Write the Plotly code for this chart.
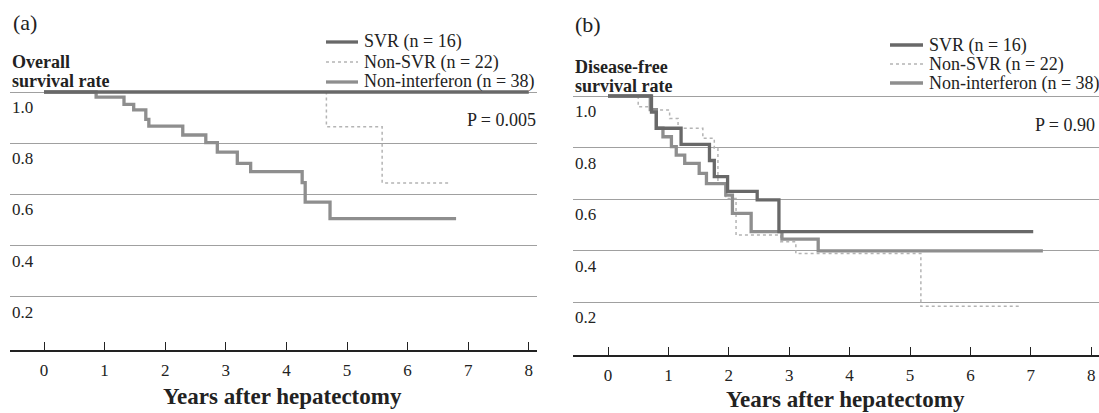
import plotly.graph_objects as go

# ---------------- data ----------------
years = [0, 1, 2, 3, 4, 5, 6, 7, 8]
rate_ticks = [0.2, 0.4, 0.6, 0.8, 1.0]
rate_labels = ["0.2", "0.4", "0.6", "0.8", "1.0"]
series_names = ["SVR (n = 16)", "Non-SVR (n = 22)", "Non-interferon (n = 38)"]

# (a) overall survival
svr_a_t = [0, 8.0]
svr_a_s = [1.0, 1.0]
nsvr_a_t = [0, 4.66, 5.58, 6.68]
nsvr_a_s = [1.0, 0.864, 0.645, 0.645]
ni_a_t = [0, 0.86, 1.32, 1.48, 1.68, 1.73, 2.29, 2.67, 2.86, 3.19, 3.41, 4.26, 4.31, 4.72, 6.80]
ni_a_s = [1.0, 0.980, 0.952, 0.930, 0.893, 0.867, 0.832, 0.802, 0.765, 0.721, 0.689, 0.646, 0.570, 0.505, 0.505]

# (b) disease-free survival
svr_b_t = [0, 0.72, 0.80, 1.21, 1.68, 1.76, 1.98, 2.47, 2.83, 7.04]
svr_b_s = [1.0, 0.9375, 0.875, 0.8125, 0.75, 0.6875, 0.63, 0.597, 0.474, 0.474]
nsvr_b_t = [0, 0.50, 0.72, 1.02, 1.16, 1.57, 1.76, 1.82, 1.95, 2.12, 2.86, 3.11, 5.18, 6.8]
nsvr_b_s = [1.0, 0.958, 0.946, 0.913, 0.875, 0.836, 0.797, 0.66, 0.603, 0.461, 0.435, 0.39, 0.185, 0.185]
ni_b_t = [0, 0.70, 0.80, 0.91, 1.05, 1.13, 1.27, 1.51, 1.63, 1.95, 2.06, 2.37, 2.88, 3.48, 7.2]
ni_b_s = [1.0, 0.947, 0.875, 0.842, 0.804, 0.771, 0.739, 0.70, 0.66, 0.616, 0.545, 0.474, 0.445, 0.40, 0.40]

p_texts = ["P = 0.005", "P = 0.90"]
panel_tags = ["(a)", "(b)"]
ytitles = [["Overall", "survival rate"], ["Disease-free", "survival rate"]]
xtitle = "Years after hepatectomy"

# ---------------- styles / geometry ----------------
W, H = 1099, 413
SERIF = "Liberation Serif"
TXT = "#222222"
GRID = "#a0a0a0"
styles = [
    dict(color="#686868", width=3.3, dash="solid"),   # SVR
    dict(color="#b4b4b4", width=1.5, dash="dot"),     # Non-SVR
    dict(color="#8e8e8e", width=3.3, dash="solid"),   # Non-interferon
]

def px(x):
    return x / W

def py(y):
    return 1 - y / H

# panel geometry in pixels (zero of the rate at ybase, axis line at yaxis_px)
panels = [
    dict(xl=10, xr=537, x0=44, ppy=60.6, ybase=348, yaxis_px=350, ytop=86, pp=256,
         leg_x0=326, leg_x1=358, leg_tx=362, leg_rows=[42, 62, 82],
         p_x=538, p_y=120, tag_x=11, tag_y=22, yt_rows=[62, 81], xt_y=396),
    dict(xl=573, xr=1099, x0=608, ppy=60.4, ybase=354, yaxis_px=355, ytop=90, pp=258,
         leg_x0=890, leg_x1=923, leg_tx=927, leg_rows=[45, 64, 83],
         p_x=1097, p_y=125, tag_x=573, tag_y=25, yt_rows=[67, 86], xt_y=399),
]

data_sets = [
    [(svr_a_t, svr_a_s), (nsvr_a_t, nsvr_a_s), (ni_a_t, ni_a_s)],
    [(svr_b_t, svr_b_s), (nsvr_b_t, nsvr_b_s), (ni_b_t, ni_b_s)],
]

fig = go.Figure()
annotations = []
shapes = []

for i, (pn, ds) in enumerate(zip(panels, data_sets)):
    sfx = "" if i == 0 else str(i + 1)
    xa, ya = "x" + sfx, "y" + sfx
    # draw order: non-SVR dotted under, then NI, then SVR on top
    for k in [1, 2, 0]:
        t, s = ds[k]
        st = styles[k]
        fig.add_trace(go.Scatter(
            x=t, y=s, mode="lines", line_shape="hv", name=series_names[k],
            line=dict(color=st["color"], width=st["width"], dash=st["dash"]),
            xaxis=xa, yaxis=ya, showlegend=False, hoverinfo="skip"))

    xr0 = (pn["xl"] - pn["x0"]) / pn["ppy"]
    xr1 = (pn["xr"] - pn["x0"]) / pn["ppy"]
    yr0 = (pn["ybase"] - pn["yaxis_px"]) / pn["pp"]
    yr1 = (pn["ybase"] - pn["ytop"]) / pn["pp"]
    fig.update_layout(**{
        "xaxis" + sfx: dict(
            domain=[px(pn["xl"]), px(pn["xr"])], range=[xr0, xr1],
            anchor=ya, showgrid=False, zeroline=False,
            showline=True, linecolor=TXT, linewidth=1.5,
            ticks="inside", ticklen=8, tickwidth=1, tickcolor=TXT,
            tickvals=years, ticktext=[str(v) for v in years],
            tickfont=dict(family=SERIF, size=17, color=TXT),
            ticklabelstandoff=4),
        "yaxis" + sfx: dict(
            domain=[py(pn["yaxis_px"]), py(pn["ytop"])], range=[yr0, yr1],
            anchor=xa, showgrid=True, gridcolor=GRID, gridwidth=1,
            zeroline=False, showline=False, ticks="",
            tickvals=rate_ticks, showticklabels=False),
    })

    # y tick labels under each gridline
    for v, lab in zip(rate_ticks, rate_labels):
        annotations.append(dict(
            x=0, xref=xa + " domain", y=v, yref=ya, text=lab, showarrow=False,
            xanchor="left", yanchor="top", yshift=-4,
            font=dict(family=SERIF, size=17, color=TXT)))

    # panel tag
    annotations.append(dict(
        x=px(pn["tag_x"]), y=py(pn["tag_y"]), xref="paper", yref="paper",
        text=panel_tags[i], showarrow=False, xanchor="left", yanchor="middle",
        font=dict(family=SERIF, size=22, color=TXT)))

    # y title (two bold lines)
    for line_txt, ry in zip(ytitles[i], pn["yt_rows"]):
        annotations.append(dict(
            x=px(pn["xl"]), y=py(ry), xref="paper", yref="paper",
            text="<b>" + line_txt + "</b>", showarrow=False,
            xanchor="left", yanchor="middle",
            font=dict(family=SERIF, size=18, color=TXT)))

    # x title
    annotations.append(dict(
        x=3.94, xref=xa, y=py(pn["xt_y"]), yref="paper",
        text="<b>" + xtitle + "</b>", showarrow=False,
        xanchor="center", yanchor="middle",
        font=dict(family=SERIF, size=23, color=TXT)))

    # P value
    annotations.append(dict(
        x=px(pn["p_x"]), y=py(pn["p_y"]), xref="paper", yref="paper",
        text=p_texts[i], showarrow=False, xanchor="right", yanchor="middle",
        font=dict(family=SERIF, size=18, color=TXT)))

    # legend (manual)
    for k, ry in enumerate(pn["leg_rows"]):
        st = styles[k]
        shapes.append(dict(
            type="line", xref="paper", yref="paper",
            x0=px(pn["leg_x0"]), x1=px(pn["leg_x1"]), y0=py(ry), y1=py(ry),
            line=dict(color=st["color"], width=st["width"], dash=st["dash"])))
        annotations.append(dict(
            x=px(pn["leg_tx"]), y=py(ry), xref="paper", yref="paper",
            text=series_names[k], showarrow=False, xanchor="left",
            yanchor="middle", font=dict(family=SERIF, size=18, color=TXT)))

fig.update_layout(
    width=W, height=H, margin=dict(l=0, r=0, t=0, b=0),
    paper_bgcolor="white", plot_bgcolor="white",
    showlegend=False, annotations=annotations, shapes=shapes)

fig.write_html("out.html",
               config={"displayModeBar": False, "staticPlot": True},
               post_script="document.body.style.margin='0';"
                           "document.body.style.overflow='hidden';")
